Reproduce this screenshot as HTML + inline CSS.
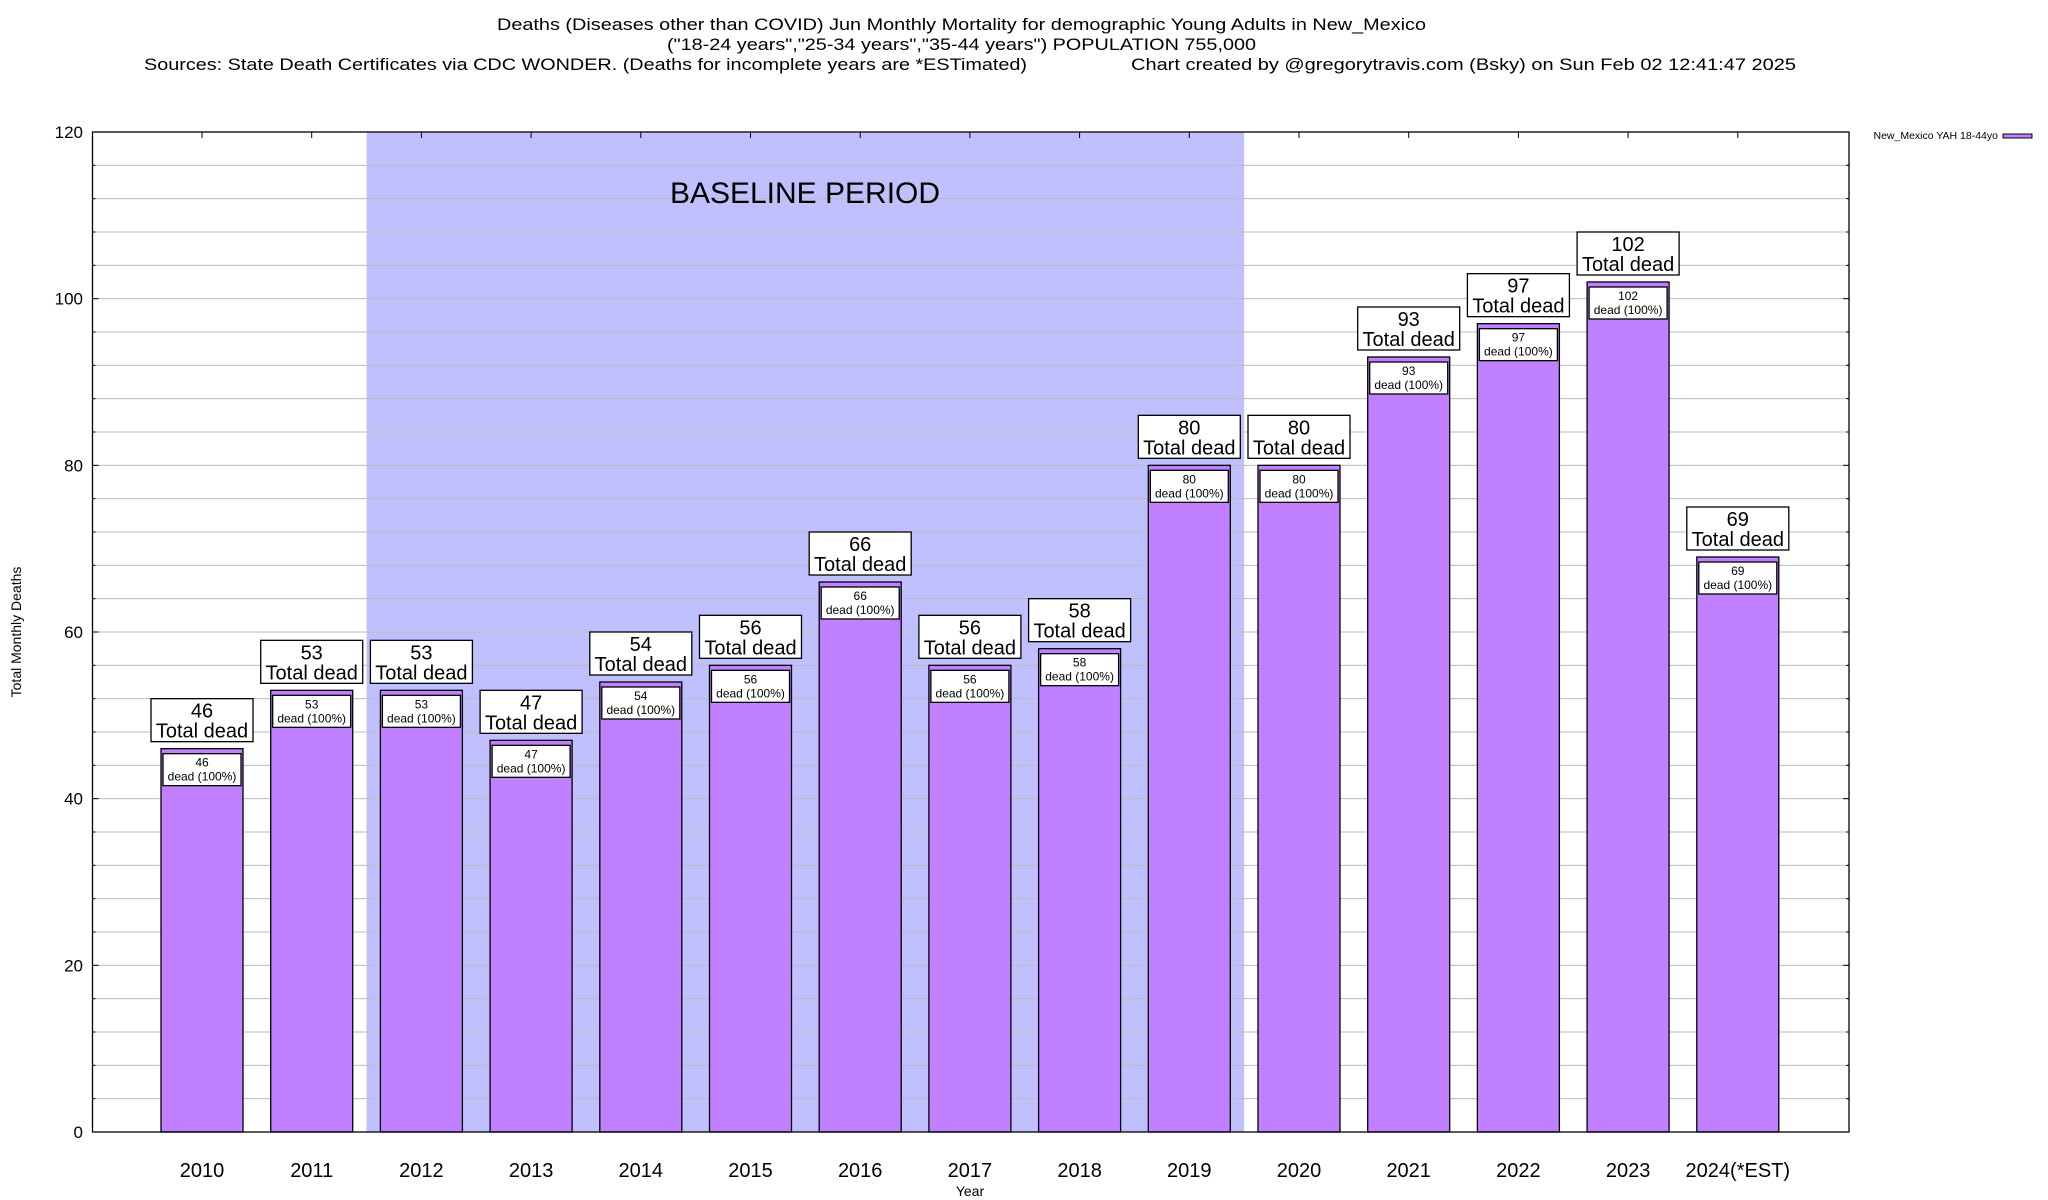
<!DOCTYPE html>
<html><head><meta charset="utf-8"><style>
html,body{margin:0;padding:0;background:#fff;}
svg{display:block;font-family:"Liberation Sans",Arial,sans-serif;}
</style></head><body>
<svg id="chart" width="2048" height="1200" viewBox="0 0 2048 1200" xmlns="http://www.w3.org/2000/svg">
<g font-size="17" fill="#000">
<text x="497" y="30" textLength="929" lengthAdjust="spacingAndGlyphs">Deaths (Diseases other than COVID) Jun Monthly Mortality for demographic Young Adults in New_Mexico</text>
<text x="667" y="50" textLength="589" lengthAdjust="spacingAndGlyphs">("18-24 years","25-34 years","35-44 years") POPULATION 755,000</text>
<text x="144" y="70" textLength="883" lengthAdjust="spacingAndGlyphs">Sources: State Death Certificates via CDC WONDER. (Deaths for incomplete years are *ESTimated)</text>
<text x="1131" y="70" textLength="665" lengthAdjust="spacingAndGlyphs">Chart created by @gregorytravis.com (Bsky) on Sun Feb 02 12:41:47 2025</text>
</g>
<g id="plot"></g>
</svg>
<script>
const categories = ["2010","2011","2012","2013","2014","2015","2016","2017","2018","2019","2020","2021","2022","2023","2024(*EST)"];
const deaths = [46,53,53,47,54,56,66,56,58,80,80,93,97,102,69];
const yTicks = [0,20,40,60,80,100,120];
const baselineStart = 2; // first baseline category index
const baselineEnd = 9;   // last baseline category index

const L=92.5, R=1849, T=132, B=1132, YMAX=120;
const x0=202, dx=109.7, bw=82;
const xc = i => x0 + i*dx;
const y = v => B - v*(B-T)/YMAX;
const NS="http://www.w3.org/2000/svg";
const plot=document.getElementById('plot');
function mk(tag, attrs, parent){const e=document.createElementNS(NS,tag);for(const k in attrs)e.setAttribute(k,attrs[k]);(parent||plot).appendChild(e);return e;}

const sh=mk('rect',{x:xc(baselineStart)-dx/2,y:T,width:(baselineEnd-baselineStart+1)*dx,height:B-T,fill:'#c0c0ff'});


for(let v=4;v<YMAX;v+=4){
  const g=mk('line',{x1:L,x2:R,y1:y(v),y2:y(v),stroke:'#bbbbbb','stroke-width':1});
  
  
  const t1=mk('line',{x1:L,x2:L+(v%20===0?6:3),y1:y(v),y2:y(v),stroke:'#000'});
  
  
  const t2=mk('line',{x1:R,x2:R-(v%20===0?6:3),y1:y(v),y2:y(v),stroke:'#000'});
  
  
}
const bl=mk('text',{x:805,y:203,'font-size':30,'text-anchor':'middle'});
bl.textContent='BASELINE PERIOD';



yTicks.forEach(v=>{
  const t=mk('text',{x:83,y:y(v)+6,'font-size':17,'text-anchor':'end'});
  t.textContent=v;
  
  
});

categories.forEach((c,i)=>{
  const cx=xc(i), v=deaths[i], top=y(v);
  const tt=mk('line',{x1:cx,x2:cx,y1:T,y2:T+6,stroke:'#000'});
  
  
  const bar=mk('rect',{x:cx-bw/2,y:top,width:bw,height:B-top,fill:'#c080ff',stroke:'#000','stroke-width':1.3});
  
  
  const ib=mk('rect',{x:cx-bw/2+2,y:top+5,width:bw-4,height:32,fill:'#fff',stroke:'#000','stroke-width':1.3});
  
  
  const t1=mk('text',{x:cx,y:top+18,'font-size':12,'text-anchor':'middle'});
  t1.textContent=v;
  
  
  const t2=mk('text',{x:cx,y:top+32,'font-size':12,'text-anchor':'middle'});
  t2.textContent='dead (100%)';
  
  
  const ob=mk('rect',{x:cx-51,y:top-50,width:102,height:43,fill:'#fff',stroke:'#000','stroke-width':1.3});
  
  
  const o1=mk('text',{x:cx,y:top-31,'font-size':20,'text-anchor':'middle'});
  o1.textContent=v;
  
  
  const o2=mk('text',{x:cx,y:top-11,'font-size':20,'text-anchor':'middle'});
  o2.textContent='Total dead';
  
  
  const xl=mk('text',{x:cx,y:1177,'font-size':20,'text-anchor':'middle'});
  xl.textContent=c;
  
  
});

const fr=mk('rect',{x:L,y:T,width:R-L,height:B-T,fill:'none',stroke:'#000','stroke-width':1.3});


const xt=mk('text',{x:970,y:1196,'font-size':14,'text-anchor':'middle'});
xt.textContent='Year';


const yt=mk('text',{x:0,y:0,'font-size':14,'text-anchor':'middle',transform:'translate(21,632) rotate(-90)'});
yt.textContent='Total Monthly Deaths';


const lt=mk('text',{x:1998,y:139,'font-size':10.5,'text-anchor':'end'});
lt.textContent='New_Mexico YAH 18-44yo';


const ls=mk('rect',{x:2003,y:134,width:29,height:4,fill:'#c080ff',stroke:'#000','stroke-width':1});


</script>
</body></html>
